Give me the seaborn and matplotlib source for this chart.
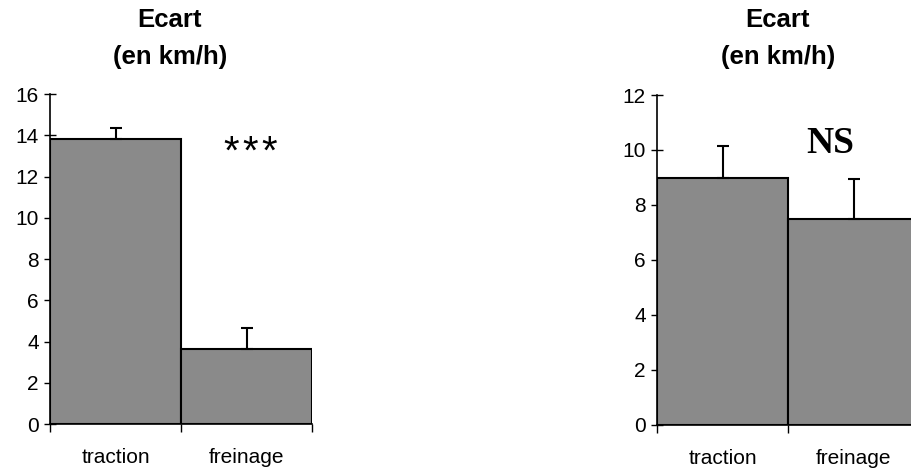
import matplotlib
matplotlib.use("Agg")
import matplotlib.pyplot as plt
import seaborn as sns
import pandas as pd
from matplotlib.ticker import FixedLocator

CATEGORIES = ["traction", "freinage"]

LEFT_MEANS = [13.8, 3.64]
LEFT_ERR = [0.55, 1.02]
LEFT_YTICKS = [0, 2, 4, 6, 8, 10, 12, 14, 16]

RIGHT_MEANS = [8.98, 7.49]
RIGHT_ERR = [1.17, 1.45]
RIGHT_YTICKS = [0, 2, 4, 6, 8, 10, 12]

BAR_GRAY = "#8a8a8a"

sns.set_theme(style="white")
plt.rcParams["font.family"] = ["Liberation Sans", "DejaVu Sans"]
plt.rcParams["text.color"] = "black"


def draw_panel(ax, means, errs, yticks):
    df = pd.DataFrame({"cat": CATEGORIES, "val": means})
    sns.barplot(data=df, x="cat", y="val", color=BAR_GRAY, width=1.0,
                edgecolor="black", linewidth=1.5, saturation=1, ax=ax)
    ax.errorbar(range(len(means)), means, yerr=[[0] * len(errs), errs],
                fmt="none", ecolor="black", elinewidth=1.5, capsize=4,
                capthick=1.5)
    ax.set_xlim(-0.5, 1.5)
    ax.set_ylim(yticks[0], yticks[-1])
    ax.set_yticks(yticks)
    ax.set_xlabel("")
    ax.set_ylabel("")
    for side in ["top", "right"]:
        ax.spines[side].set_visible(False)
    for side in ["left", "bottom"]:
        ax.spines[side].set_color("black")
        ax.spines[side].set_linewidth(1.2)
    ax.xaxis.set_minor_locator(FixedLocator([-0.5, 0.5, 1.5]))
    ax.tick_params(axis="x", which="major", length=0, pad=17, labelsize=15,
                   colors="black")
    ax.tick_params(axis="x", which="minor", bottom=True, direction="out",
                   length=6, width=1, color="black")
    ax.tick_params(axis="y", left=True, direction="inout", length=8, width=1,
                   labelsize=15, colors="black", pad=4)


fig = plt.figure(figsize=(9.11, 4.68), dpi=100)
ax1 = fig.add_axes([0.0549, 0.094, 0.2876, 0.705])
ax2 = fig.add_axes([0.7212, 0.092, 0.2876, 0.705])

draw_panel(ax1, LEFT_MEANS, LEFT_ERR, LEFT_YTICKS)
draw_panel(ax2, RIGHT_MEANS, RIGHT_ERR, RIGHT_YTICKS)

ax1.text(1.03, 12.6, "*\u200a*\u200a*", fontsize=29, ha="center",
         va="baseline", color="black")
ax2.text(0.82, 10.25, "NS", fontsize=27, fontweight="bold", ha="center",
         va="center", family=["Liberation Serif", "DejaVu Serif"],
         color="black")

for xc in [0.1866, 0.854]:
    fig.text(xc, 0.957, "Ecart", fontsize=18.5, fontweight="bold",
             ha="center", va="center", color="black")
    fig.text(xc, 0.878, "(en km/h)", fontsize=18.5, fontweight="bold",
             ha="center", va="center", color="black")

fig.savefig("out.png", dpi=100)
